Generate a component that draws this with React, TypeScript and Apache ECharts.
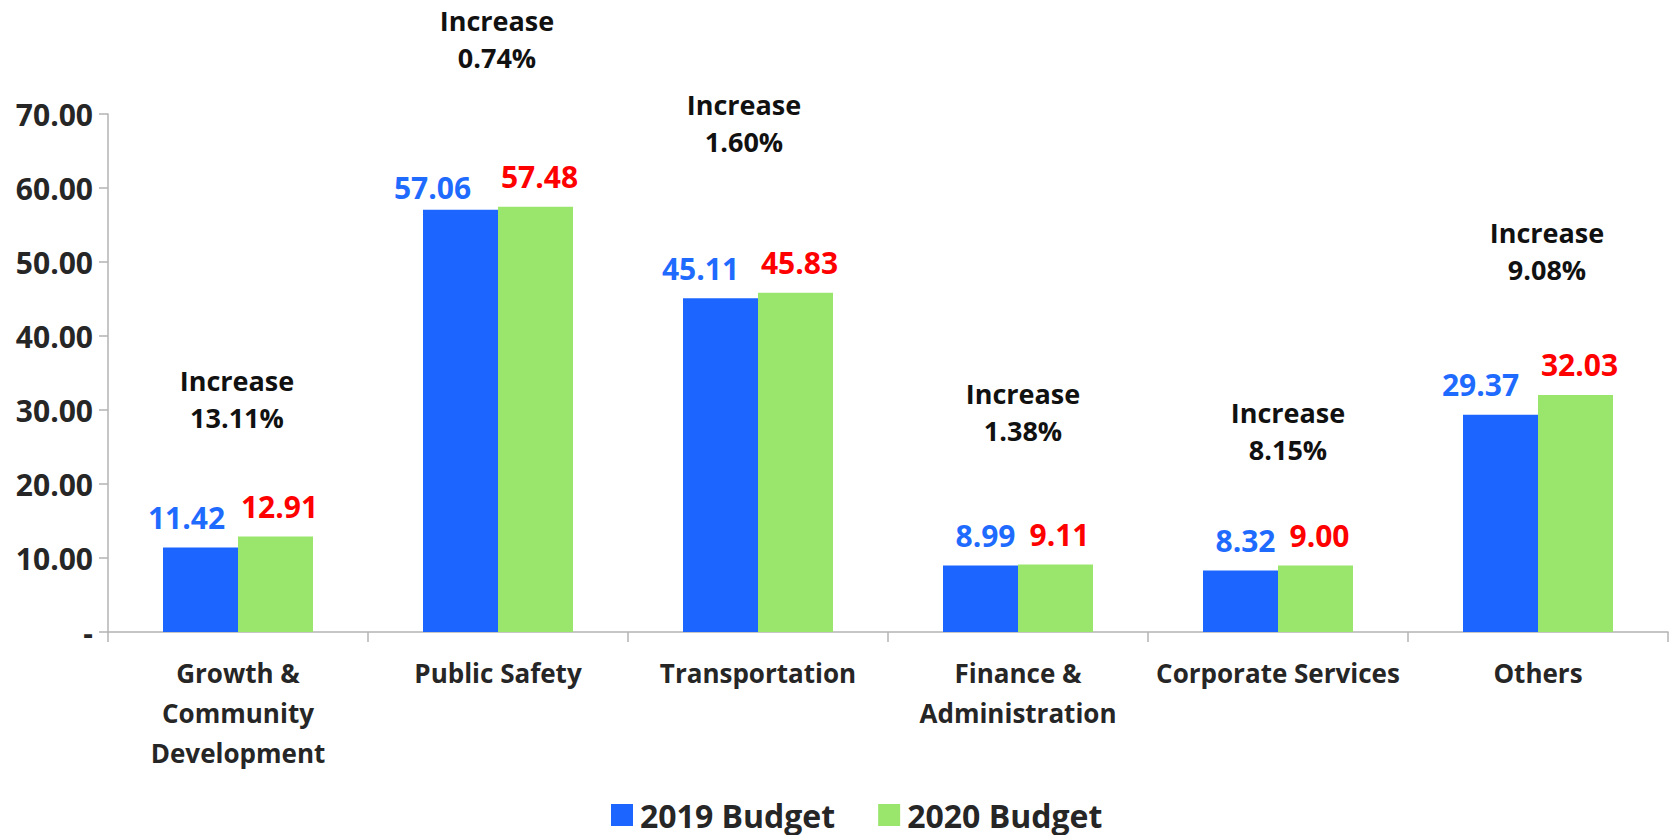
import React, { useEffect, useRef } from "react";
import * as echarts from "echarts";

const categories = [
  "Growth &\nCommunity\nDevelopment",
  "Public Safety",
  "Transportation",
  "Finance &\nAdministration",
  "Corporate Services",
  "Others",
];
const budget2019 = [11.42, 57.06, 45.11, 8.99, 8.32, 29.37];
const budget2020 = [12.91, 57.48, 45.83, 9.11, 9.0, 32.03];
const increasePct = ["13.11%", "0.74%", "1.60%", "1.38%", "8.15%", "9.08%"];
// vertical anchor (in axis units) of each "Increase" annotation
const annotationY = [31.55, 80.14, 68.78, 29.73, 27.16, 51.49];
const annotationDx = [-1, -1, -14, 5, 10, 9];
const label2019Offset = [
  [-14, 0],
  [-28, 8],
  [-20, 0],
  [5, 0],
  [5, 0],
  [-20, 0],
];
const label2020Dx = 4;

const FONT = "'Open Sans', sans-serif";
const BLUE = "#1c66ff";
const GREEN = "#9ae56c";
const TEXT = "#262626";

export default function App() {
  const ref = useRef<HTMLDivElement>(null);
  useEffect(() => {
    if (!ref.current) return;
    const chart = echarts.init(ref.current, undefined, { renderer: "svg" });
    const valueLabel = {
      show: true,
      position: "top",
      distance: 15,
      fontFamily: FONT,
      fontWeight: "bold",
      fontSize: 30,
      lineHeight: 30,
    };
    chart.setOption({
      animation: false,
      backgroundColor: "#ffffff",
      textStyle: { fontFamily: FONT },
      grid: { left: 108, right: 5, top: 114, bottom: 203, containLabel: false },
      legend: {
        data: ["2019 Budget", "2020 Budget"],
        top: 793,
        left: 606,
        itemWidth: 22,
        itemHeight: 22,
        itemGap: 43,
        icon: "rect",
        textStyle: {
          fontFamily: FONT,
          fontWeight: "bold",
          fontSize: 32,
          color: TEXT,
          lineHeight: 34,
          padding: [0, 0, 0, 2],
        },
      },
      xAxis: {
        type: "category",
        data: categories,
        axisLine: { lineStyle: { color: "#b3b3b3", width: 1.5 } },
        axisTick: { show: true, length: 10, alignWithLabel: false, lineStyle: { color: "#b3b3b3", width: 1.5 } },
        axisLabel: {
          interval: 0,
          margin: 21,
          fontFamily: FONT,
          fontWeight: "bold",
          fontSize: 26,
          lineHeight: 40,
          color: TEXT,
        },
      },
      yAxis: {
        type: "value",
        min: 0,
        max: 70,
        interval: 10,
        splitLine: { show: false },
        axisLine: { show: true, lineStyle: { color: "#b3b3b3", width: 1.5 } },
        axisTick: { show: true, length: 9, lineStyle: { color: "#b3b3b3", width: 1.5 } },
        axisLabel: {
          margin: 15,
          fontFamily: FONT,
          fontWeight: "bold",
          fontSize: 30,
          color: TEXT,
          formatter: (v: number) => (v === 0 ? "-" : v.toFixed(2)),
        },
      },
      series: [
        {
          name: "2019 Budget",
          type: "bar",
          barWidth: 75,
          barGap: "0%",
          itemStyle: { color: BLUE },
          label: { ...valueLabel, color: "#1f6bff", formatter: (p: any) => p.value.toFixed(2) },
          data: budget2019.map((v, i) => ({
            value: v,
            label: { offset: label2019Offset[i] },
          })),
        },
        {
          name: "2020 Budget",
          type: "bar",
          barWidth: 75,
          barGap: "0%",
          itemStyle: { color: GREEN },
          label: {
            ...valueLabel,
            color: "#ff0000",
            offset: [label2020Dx, 0],
            formatter: (p: any) => p.value.toFixed(2),
          },
          data: budget2020,
        },
        {
          name: "annotation",
          type: "scatter",
          symbolSize: 0,
          clip: false,
          silent: true,
          z: 5,
          itemStyle: { opacity: 1, color: "#000" },
          label: {
            show: true,
            position: "inside",
            fontFamily: FONT,
            fontWeight: "bold",
            fontSize: 27,
            lineHeight: 37,
            color: "#111111",
            opacity: 1,
            textBorderWidth: 0,
            align: "center",
            verticalAlign: "middle",
            formatter: (p: any) => "Increase\n" + increasePct[p.dataIndex],
          },
          data: annotationY.map((y, i) => ({
            value: [i, y],
            label: { offset: [annotationDx[i], 0] },
          })),
        },
      ],
    });
    return () => chart.dispose();
  }, []);
  return (
    <div
      ref={ref}
      style={{ position: "fixed", left: 0, top: 0, width: 1673, height: 835, background: "#fff" }}
    />
  );
}
